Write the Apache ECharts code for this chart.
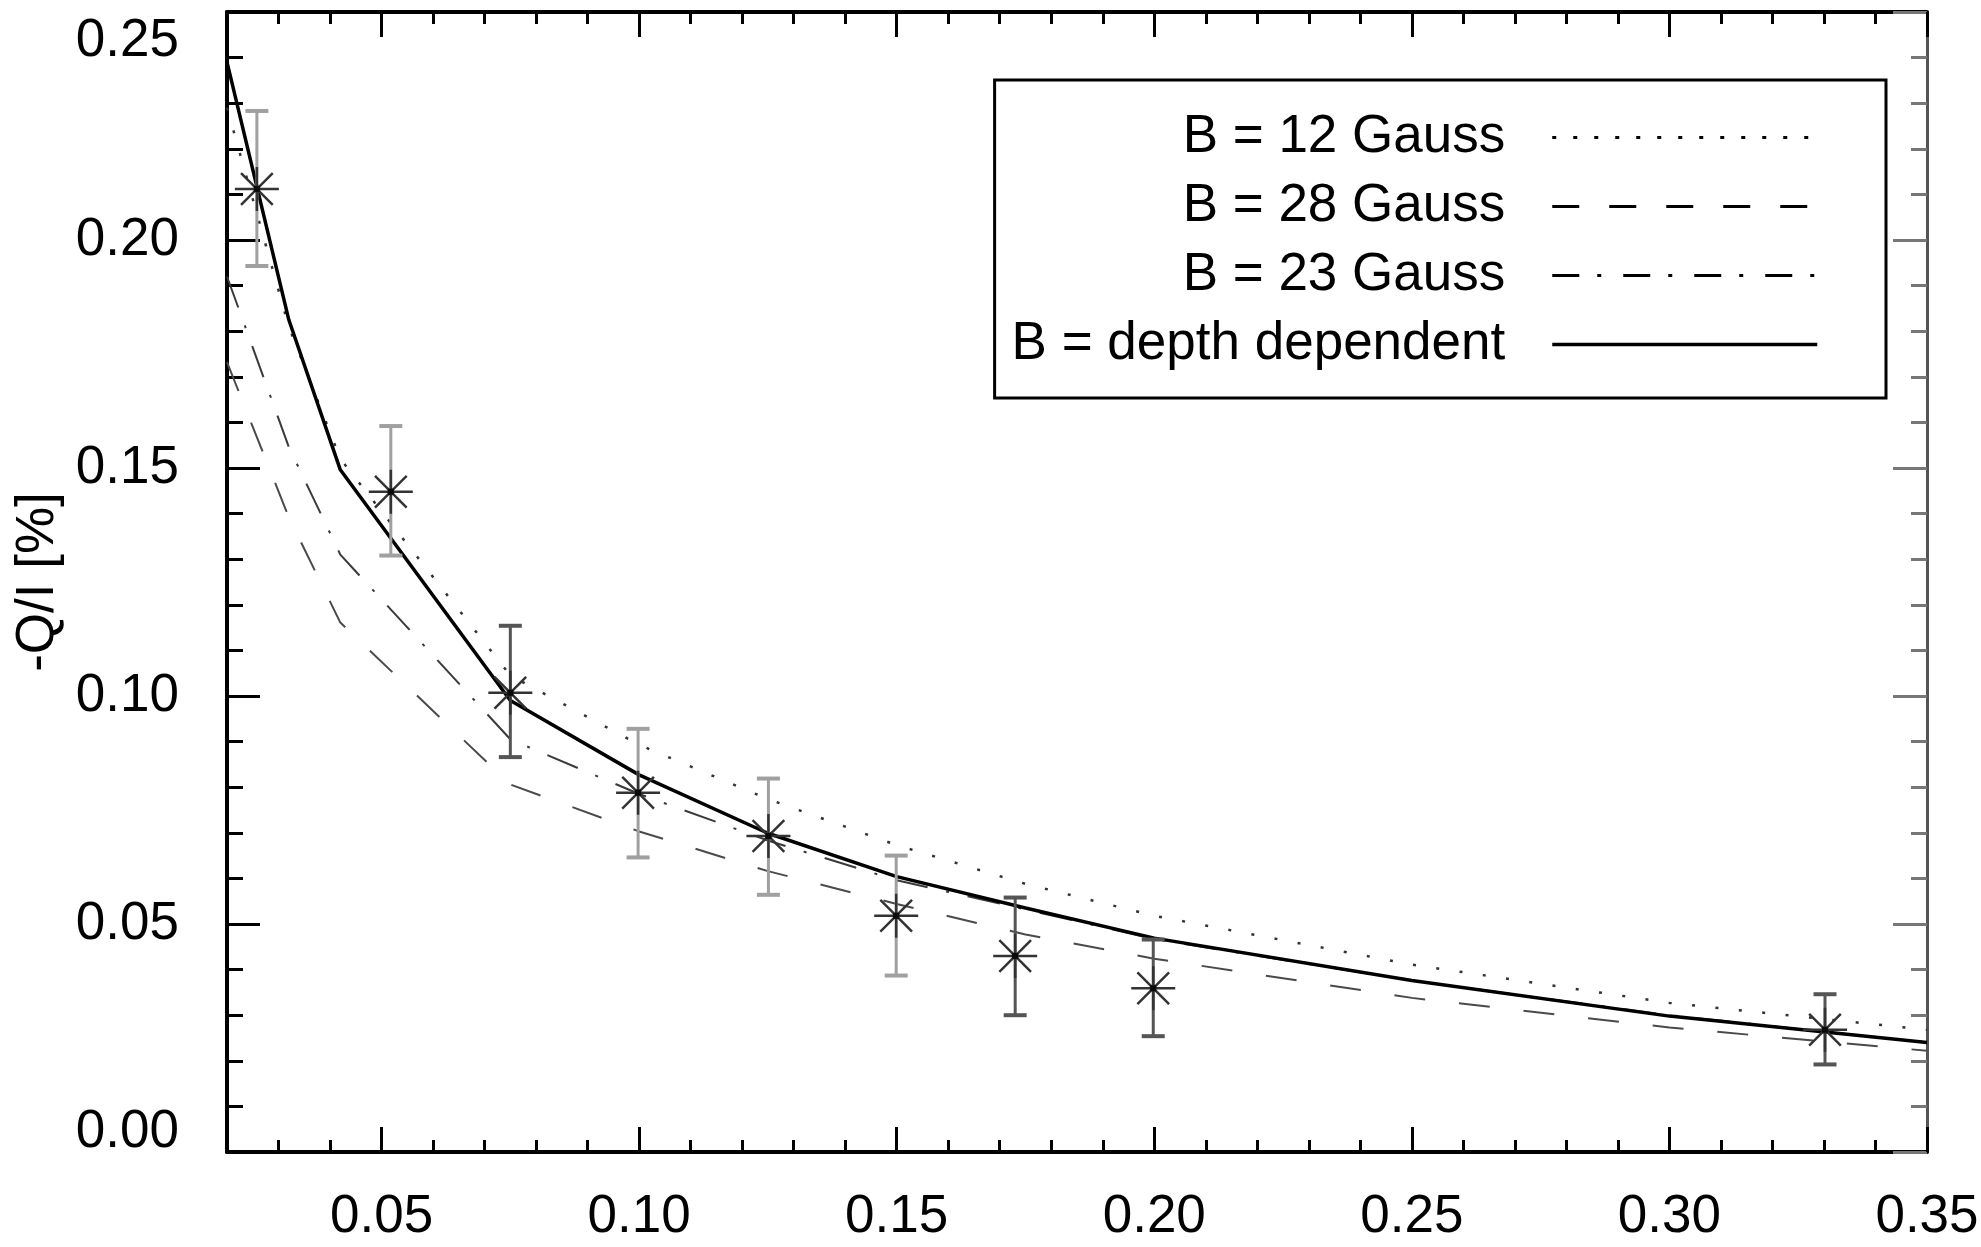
<!DOCTYPE html>
<html><head><meta charset="utf-8">
<script src="https://cdn.jsdelivr.net/npm/echarts@6/dist/echarts.min.js"></script>
<style>html,body{margin:0;padding:0;background:#fff}#chart{width:1981px;height:1247px}</style>
</head><body><div id="chart"></div>
<script>
// ---- data ----
const modelX = [0.02, 0.032, 0.042, 0.075, 0.10, 0.125, 0.15, 0.175, 0.20, 0.25, 0.30, 0.35];
const b12    = [0.229, 0.181, 0.152, 0.1045, 0.0893, 0.0774, 0.0673, 0.0588, 0.0518, 0.0411, 0.0327, 0.0268];
const b28    = [0.1732, 0.1392, 0.1161, 0.0806, 0.0703, 0.0616, 0.0544, 0.0477, 0.0424, 0.0338, 0.0273, 0.0222];
const b23    = [0.192, 0.1546, 0.131, 0.0905, 0.0785, 0.0683, 0.0596, 0.0532, 0.0467, 0.0376, 0.0300, 0.0240];
const bDepth = [0.239, 0.1825, 0.1496, 0.0990, 0.0827, 0.0699, 0.0604, 0.0535, 0.0469, 0.0376, 0.0298, 0.0240];

const obsX  = [0.0258, 0.0518, 0.0750, 0.0998, 0.1251, 0.1499, 0.1730, 0.1998, 0.3302];
const obsY  = [0.2112, 0.1448, 0.1007, 0.0788, 0.0693, 0.0518, 0.0430, 0.0359, 0.0268];
const obsLo = [0.1943, 0.1308, 0.0866, 0.0646, 0.0564, 0.0387, 0.0300, 0.0254, 0.0192];
const obsHi = [0.2283, 0.1592, 0.1154, 0.0928, 0.0819, 0.0650, 0.0558, 0.0466, 0.0346];

const xMajorTicks = [0.05, 0.10, 0.15, 0.20, 0.25, 0.30, 0.35];
const seriesNames = ['B = 12 Gauss', 'B = 28 Gauss', 'B = 23 Gauss', 'B = depth dependent'];
const yAxisTitle = '-Q/I [%]';

// ---- styles ----
const barTone = ['light','light','dark','light','light','light','dark','dark','dark'];
const FONT = '"Liberation Sans", Arial, Helvetica, sans-serif';
const FS = 53;
const TXT = '#000';
const lineStyles = [
  {type: [3, 20.5], width: 2.5, color: '#333', cap: 'butt'},
  {type: [31, 34], width: 2, color: '#4a4a4a', cap: 'butt'},
  {type: [33, 19, 3, 19], width: 2, color: '#3a3a3a', cap: 'butt'},
  {type: 'solid', width: 3.5, color: '#000', cap: 'butt'}
];
const legendLineStyles = [
  {type: [4, 17], width: 3, color: '#000', cap: 'butt'},
  {type: [27, 30], width: 3, color: '#000', cap: 'butt'},
  {type: [27, 18, 4, 22], width: 3, color: '#000', cap: 'butt'},
  {type: 'solid', width: 3.5, color: '#000', cap: 'butt'}
];

const pairs = (ys) => modelX.map((x, i) => [x, ys[i]]);
const modelSets = [b12, b28, b23, bDepth];

const chart = echarts.init(document.getElementById('chart'), null, {renderer: 'canvas'});

const lineSeries = modelSets.map((ys, k) => ({
  name: seriesNames[k], type: 'line', data: pairs(ys),
  xAxisIndex: 0, yAxisIndex: 0,
  symbol: 'none', showSymbol: false, smooth: false,
  lineStyle: lineStyles[k], z: 3, silent: true
}));

const minorTickX = (pos) => ({
  type: 'value', position: pos, min: 0.02, max: 0.35, interval: 0.01,
  axisLine: {show: true, onZero: false, lineStyle: {color: '#000', width: 4}},
  axisTick: {show: true, inside: true, length: 12, lineStyle: {color: '#000', width: 3}},
  axisLabel: {show: false}, splitLine: {show: false}
});
const majorTickX = (pos, labels) => ({
  type: 'value', position: pos, min: 0.02, max: 0.35,
  axisLine: {show: false, onZero: false},
  axisTick: {show: true, inside: true, length: 25, customValues: xMajorTicks, lineStyle: {color: '#000', width: 3}},
  axisLabel: {show: labels, customValues: xMajorTicks, formatter: (v) => v.toFixed(2),
    margin: 39, fontSize: FS, fontFamily: FONT, color: TXT},
  splitLine: {show: false}
});

const option = {
  backgroundColor: '#fff',
  animation: false,
  grid: {left: 227, right: 54, top: 12, bottom: 95, containLabel: false, outerBoundsMode: 'none'},
  xAxis: [minorTickX('bottom'), majorTickX('bottom', true), minorTickX('top'), majorTickX('top', false)],
  yAxis: [
    {type: 'value', position: 'left', min: 0, max: 0.25, interval: 0.01,
     axisLine: {show: true, onZero: false, lineStyle: {color: '#000', width: 4}},
     axisTick: {show: true, inside: true, length: 16, lineStyle: {color: '#000', width: 3}},
     axisLabel: {show: false}, splitLine: {show: false}},
    {type: 'value', position: 'left', min: 0, max: 0.25, interval: 0.05,
     name: yAxisTitle, nameLocation: 'middle', nameGap: 160, nameRotate: 90,
     nameTextStyle: {fontSize: FS, fontFamily: FONT, color: TXT},
     axisLine: {show: false, onZero: false},
     axisTick: {show: true, inside: true, length: 33, lineStyle: {color: '#000', width: 3}},
     axisLabel: {show: true, margin: 48, fontSize: FS, fontFamily: FONT, color: TXT,
       formatter: (v) => v >= 0.2499 ? '{t|' + v.toFixed(2) + '}' : (v <= 0.0001 ? '{b|' + v.toFixed(2) + '}' : v.toFixed(2)),
       rich: {t: {padding: [58, 0, 0, 0], fontSize: FS, fontFamily: FONT, color: TXT},
              b: {padding: [0, 0, 40, 0], fontSize: FS, fontFamily: FONT, color: TXT}}},
     splitLine: {show: false}},
    {type: 'value', position: 'right', min: 0, max: 0.25, interval: 0.01,
     axisLine: {show: true, onZero: false, lineStyle: {color: '#555', width: 3}},
     axisTick: {show: true, inside: true, length: 16, lineStyle: {color: '#777', width: 3}},
     axisLabel: {show: false}, splitLine: {show: false}},
    {type: 'value', position: 'right', min: 0, max: 0.25, interval: 0.05,
     axisLine: {show: false, onZero: false},
     axisTick: {show: true, inside: true, length: 34, lineStyle: {color: '#777', width: 3}},
     axisLabel: {show: false}, splitLine: {show: false}}
  ],
  legend: {
    show: true, orient: 'vertical', right: 95, top: 80,
    align: 'right', selectedMode: false,
    padding: [31, 67, 27, 17], itemGap: 16,
    itemWidth: 265, itemHeight: 20,
    borderColor: '#000', borderWidth: 3, backgroundColor: '#fff',
    itemStyle: {opacity: 0},
    textStyle: {fontSize: FS, fontFamily: FONT, color: TXT, width: 495, overflow: 'none',
      padding: [0, 42, 0, 0]},
    data: seriesNames.map((n, k) => ({name: n, lineStyle: legendLineStyles[k], itemStyle: {opacity: 0}}))
  },
  series: [
    ...lineSeries,
    {
      name: 'errors', type: 'custom', xAxisIndex: 0, yAxisIndex: 0, z: 4, silent: true,
      data: obsX.map((x, i) => [x, obsLo[i], obsHi[i]]),
      encode: {x: 0, y: [1, 2]},
      renderItem: (params, api) => {
        const x = api.value(0);
        const top = api.coord([x, api.value(2)]);
        const bot = api.coord([x, api.value(1)]);
        const c = barTone[params.dataIndex] === 'light' ? '#a0a0a0' : '#555';
        const hw = 11.5;
        return {type: 'group', children: [
          {type: 'line', shape: {x1: top[0], y1: top[1], x2: bot[0], y2: bot[1]}, style: {stroke: c, lineWidth: 3}},
          {type: 'line', shape: {x1: top[0] - hw, y1: top[1], x2: top[0] + hw, y2: top[1]}, style: {stroke: c, lineWidth: 4}},
          {type: 'line', shape: {x1: bot[0] - hw, y1: bot[1], x2: bot[0] + hw, y2: bot[1]}, style: {stroke: c, lineWidth: 4}}
        ]};
      }
    },
    {
      name: 'obs', type: 'scatter', xAxisIndex: 0, yAxisIndex: 0, z: 5, silent: true,
      data: obsX.map((x, i) => [x, obsY[i]]),
      symbol: 'path://M0,-1L0,1M-1,0L1,0M-0.72,-0.72L0.72,0.72M-0.72,0.72L0.72,-0.72',
      symbolSize: 44,
      itemStyle: {color: 'rgba(0,0,0,0)', borderColor: '#333', borderWidth: 2.5, opacity: 1}
    },
    {
      name: 'obsDot', type: 'scatter', xAxisIndex: 0, yAxisIndex: 0, z: 6, silent: true,
      data: obsX.map((x, i) => [x, obsY[i]]),
      symbol: 'rect', symbolSize: 6, itemStyle: {color: '#000'}
    }
  ]
};
chart.setOption(option);
</script></body></html>
